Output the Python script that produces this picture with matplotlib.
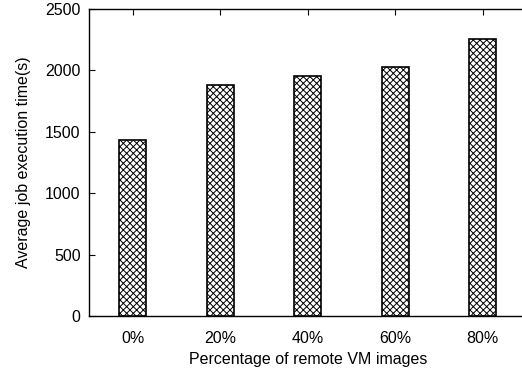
import matplotlib
matplotlib.use("Agg")
import matplotlib.pyplot as plt

# Data
categories = ["0%", "20%", "40%", "60%", "80%"]
exec_time = [1433, 1881, 1954, 2028, 2255]
y_ticks = [0, 500, 1000, 1500, 2000, 2500]

plt.rcParams["font.family"] = ["Liberation Sans", "DejaVu Sans"]
plt.rcParams["hatch.linewidth"] = 0.7

fig = plt.figure(figsize=(5.22, 3.68), dpi=100)
# the original is cropped on the right, so the axes run past the figure edge
ax = fig.add_axes([0.1705, 0.1413, 0.838, 0.834])

x = list(range(len(categories)))
ax.bar(x, exec_time, width=0.31, color="white", edgecolor="black",
       linewidth=1.2, hatch="xxxxx", zorder=3)

ax.set_xlim(-0.5, 4.5)
ax.set_ylim(0, 2500)
ax.set_xticks(x)
ax.set_xticklabels(categories)
ax.set_yticks(y_ticks)

ax.tick_params(axis="x", direction="in", top=True, bottom=False,
               length=4, width=0.8, pad=11, labelsize=11.5)
ax.tick_params(axis="y", direction="in", length=4, width=0.8, pad=6,
               labelsize=11.5)
for s in ax.spines.values():
    s.set_linewidth(1.0)

ax.set_xlabel("Percentage of remote VM images", fontsize=11.5, labelpad=4)
ax.set_ylabel("Average job execution time(s)", fontsize=11.5, labelpad=10)

fig.savefig("out.png", dpi=100)
